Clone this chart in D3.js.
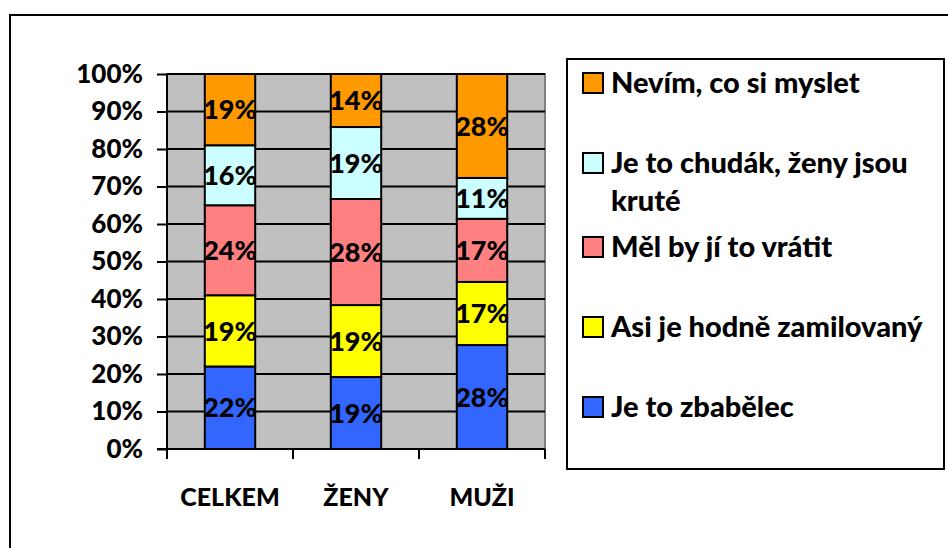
<!DOCTYPE html>
<html>
<head>
<meta charset="utf-8">
<script src="https://cdn.jsdelivr.net/npm/d3@7"></script>
<style>
  body { margin: 0; background: #fff; }
  text { font-family: Lato, "Open Sans", sans-serif; font-weight: 900; fill: #000; }
</style>
</head>
<body>
<script>
// categories and answers (bottom of the stack first)
var categories = ['CELKEM', 'ŽENY', 'MUŽI'];
var answers = ['Je to zbabělec', 'Asi je hodně zamilovaný', 'Měl by jí to vrátit',
               'Je to chudák, ženy jsou kruté', 'Nevím, co si myslet'];
var colors = ['#3366FF', '#FFFF00', '#FF8080', '#CCFFFF', '#FF9900'];

// percentages per answer, in the order of categories
var zbabelec   = [22, 19, 28];
var zamilovany = [19, 19, 17];
var vratit     = [24, 28, 17];
var chudak     = [16, 19, 11];
var nevim      = [19, 14, 28];
var y_ticks = [0, 0.1, 0.2, 0.3, 0.4, 0.5, 0.6, 0.7, 0.8, 0.9, 1];

var series_values = [zbabelec, zamilovany, vratit, chudak, nevim];

var width = 948, height = 548;
var plot = {left: 167, right: 545, top: 74, bottom: 449};

var svg = d3.select('body').append('svg').attr('width', width).attr('height', height);

// outer chart frame (runs off the right and bottom edge)
svg.append('rect').attr('x', 10).attr('y', 15).attr('width', 960).attr('height', 560)
   .attr('fill', 'none').attr('stroke', '#000').attr('stroke-width', 2);

// table built from the arrays for d3.stack
var table = categories.map(function(c, i) {
    var row = {cat: c};
    answers.forEach(function(a, j) { row[a] = series_values[j][i]; });
    return row;
});
var stack = d3.stack().keys(answers).offset(d3.stackOffsetExpand);
var series = stack(table);

var x_scale = d3.scaleBand().domain(categories).range([plot.left, plot.right])
                .paddingInner(0.6).paddingOuter(0.3);
var y_scale = d3.scaleLinear().domain([0, 1]).range([plot.bottom, plot.top]);

// plot backdrop
svg.append('rect').attr('x', plot.left).attr('y', plot.top)
   .attr('width', plot.right - plot.left).attr('height', plot.bottom - plot.top)
   .attr('fill', '#C0C0C0').attr('stroke', '#808080').attr('stroke-width', 2);

// gridlines
svg.append('g').selectAll('line').data(y_ticks.slice(1)).enter().append('line')
   .attr('x1', plot.left).attr('x2', plot.right)
   .attr('y1', d => y_scale(d)).attr('y2', d => y_scale(d))
   .attr('stroke', '#000').attr('stroke-width', 2);

// y axis
var y_axis = svg.append('g').attr('transform', 'translate(' + plot.left + ',0)')
   .call(d3.axisLeft(y_scale).tickValues(y_ticks).tickFormat(d3.format('.0%')).tickSize(10).tickPadding(14));
y_axis.select('.domain').attr('stroke-width', 2).attr('d', 'M0,' + plot.top + 'V' + plot.bottom);
y_axis.selectAll('line').attr('stroke-width', 2);
y_axis.selectAll('text').attr('font-family', null).attr('font-size', null)
      .style('font-size', '26px').style('fill', '#000');

// x axis with ticks on band boundaries
var x_axis = svg.append('g').attr('transform', 'translate(0,' + plot.bottom + ')');
x_axis.append('line').attr('x1', plot.left - 10).attr('x2', plot.right)
      .attr('stroke', '#000').attr('stroke-width', 2);
var bounds = categories.map(c => x_scale(c) - x_scale.step() * 0.3).concat([plot.right]);
x_axis.selectAll('.tk').data(bounds).enter().append('line').attr('class', 'tk')
      .attr('x1', d => d).attr('x2', d => d).attr('y1', 0).attr('y2', 10)
      .attr('stroke', '#000').attr('stroke-width', 2);
x_axis.selectAll('.lbl').data(categories).enter().append('text').attr('class', 'lbl')
      .attr('x', d => x_scale(d) + x_scale.bandwidth() / 2).attr('y', 57)
      .attr('text-anchor', 'middle').style('font-size', '25px').text(d => d);

// bars
var layers = svg.append('g').selectAll('g').data(series).enter().append('g')
   .attr('fill', (d, i) => colors[i]);
layers.selectAll('rect').data(d => d).enter().append('rect')
   .attr('x', d => x_scale(d.data.cat))
   .attr('width', x_scale.bandwidth())
   .attr('y', d => y_scale(d[1]))
   .attr('height', d => y_scale(d[0]) - y_scale(d[1]))
   .attr('stroke', '#000').attr('stroke-width', 2);

// value labels
layers.each(function(s) {
    d3.select(this).selectAll('text').data(s).enter().append('text')
      .attr('x', d => x_scale(d.data.cat) + x_scale.bandwidth() / 2)
      .attr('y', d => (y_scale(d[0]) + y_scale(d[1])) / 2)
      .attr('dy', '0.36em').attr('text-anchor', 'middle')
      .style('font-size', '27px').style('fill', '#000')
      .text(d => d.data[s.key] + '%');
});

// legend
var legend = {x: 567, y: 59, w: 377, h: 410};
svg.append('rect').attr('x', legend.x).attr('y', legend.y).attr('width', legend.w).attr('height', legend.h)
   .attr('fill', '#fff').attr('stroke', '#000').attr('stroke-width', 2);

var legend_rows = [83, 163, 247, 327, 407];
var items = svg.append('g').selectAll('g').data(answers.slice().reverse()).enter().append('g')
   .attr('transform', (d, i) => 'translate(' + (legend.x + 16) + ',' + legend_rows[i] + ')');
items.append('rect').attr('x', 0).attr('y', -10).attr('width', 20).attr('height', 20)
   .attr('fill', (d, i) => colors[colors.length - 1 - i]).attr('stroke', '#000').attr('stroke-width', 2);
items.append('text').style('font-size', '29px')
   .each(function(d) {
       var t = d3.select(this), words = d.split(' '), line = [], n = 0;
       var ts = t.append('tspan').attr('x', 28).attr('y', 0).attr('dy', '0.36em');
       words.forEach(function(w) {
           line.push(w);
           ts.text(line.join(' '));
           if (ts.node().getComputedTextLength() > 330 && line.length > 1) {
               line.pop();
               ts.text(line.join(' '));
               line = [w];
               n++;
               ts = t.append('tspan').attr('x', 28).attr('y', 0).attr('dy', (0.36 + n * 1.28) + 'em').text(w);
           }
       });
   });
</script>
</body>
</html>
